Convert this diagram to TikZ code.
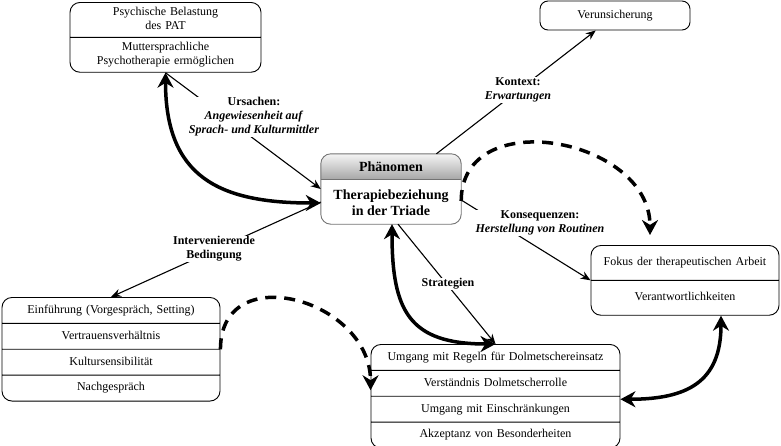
\documentclass[tikz,border=0pt]{standalone}
\usepackage{fontspec}
\setmainfont{Liberation Serif}
\usetikzlibrary{shapes.multipart,arrows.meta}

\newcommand{\fs}{\fontsize{12}{14}\selectfont}
\newcommand{\fb}{\fontsize{14}{16}\selectfont\bfseries}

\tikzset{
  listbox/.style={rectangle split, rectangle split parts=#1, draw, line width=0.9pt,
    rounded corners=10pt, inner xsep=0pt, align=center, font=\fs, fill=white},
  onebox/.style={draw, line width=0.9pt, rounded corners=8pt, font=\fs,
    minimum width=150pt, minimum height=29pt},
  thinarrow/.style={line width=1.1pt, -{Stealth[length=10pt,width=8pt]}},
  dblarrow/.style={line width=3.5pt, looseness=1.3,
    {Stealth[length=15pt,width=16pt]}-{Stealth[length=15pt,width=16pt]}},
  dasharrow/.style={line width=3.5pt, dash pattern=on 11pt off 8pt,
    -{Stealth[length=15pt,width=16pt]}},
  lbl/.style={fill=white, inner sep=1pt, align=center, font=\fs\bfseries},
}

\begin{document}
\begin{tikzpicture}[x=1pt,y=1pt]
  \useasboundingbox (0,0) rectangle (781,-445);

  % boxes
  \node[listbox=2, text width=191pt, inner ysep=3pt, anchor=north] (pat) at (165.5,-2)
    {\strut Psychische Belastung\\\strut des PAT
     \nodepart{two}\strut Muttersprachliche\\\strut Psychotherapie ermöglichen};
  \node[onebox] (ver) at (615,-15.5) {Verunsicherung};
  \node[listbox=2, text width=188pt, inner ysep=10pt, anchor=north] (fokus) at (685,-245)
    {\strut Fokus der therapeutischen Arbeit
     \nodepart{two}\strut Verantwortlichkeiten};
  \node[listbox=4, text width=218pt, inner ysep=5.5pt, anchor=north] (einf) at (111,-297)
    {\strut Einführung (Vorgespräch, Setting)
     \nodepart{two}\strut Vertrauensverhältnis
     \nodepart{three}\strut Kultursensibilität
     \nodepart{four}\strut Nachgespräch};
  \node[listbox=4, text width=249pt, inner ysep=5.5pt, anchor=north] (umg) at (495.5,-344)
    {\strut Umgang mit Regeln für Dolmetschereinsatz
     \nodepart{two}\strut Verständnis Dolmetscherrolle
     \nodepart{three}\strut Umgang mit Einschränkungen
     \nodepart{four}\strut Akzeptanz von Besonderheiten};

  % phaenomen
  \node[minimum width=140pt, minimum height=70pt, inner sep=0pt] (ctr) at (391,-189) {};
  \begin{scope}
    \clip[rounded corners=10pt] (ctr.south west) rectangle (ctr.north east);
    \shade[top color=black!4, bottom color=black!35] (ctr.north west) rectangle ([yshift=-26pt]ctr.north east);
  \end{scope}
  \draw[black!55, line width=0.9pt, rounded corners=10pt] (ctr.south west) rectangle (ctr.north east);
  \draw[black!55, line width=0.9pt] ([yshift=-26pt]ctr.north west) -- ([yshift=-26pt]ctr.north east);
  \node[font=\fb] (phae) at ([yshift=-13pt]ctr.north) {Phänomen};
  \node[font=\fb, align=center] (tria) at ([yshift=-49pt]ctr.north) {Therapiebeziehung\\in der Triade};

  % thin connectors
  \draw[thinarrow] (pat.south) -- (ctr.west);
  \draw[thinarrow] (ctr) -- (ver);
  \draw[thinarrow] ([yshift=-11pt]ctr.east) -- (fokus.west);
  \draw[thinarrow] ([yshift=-13pt]ctr.west) -- (einf.north);
  \draw[thinarrow] ([xshift=7pt]ctr.south) -- (umg.north);

  \node[lbl] (urs) at (254,-117) {Ursachen:\\\textit{Angewiesenheit auf}\\\textit{Sprach- und Kulturmittler}};
  \node[lbl] (kon) at (518,-90) {Kontext:\\\textit{Erwartungen}};
  \node[lbl] (kons) at (540,-223) {Konsequenzen:\\\textit{Herstellung von Routinen}};
  \node[lbl] (intv) at (214,-249) {Intervenierende\\Bedingung};
  \node[lbl] (strat) at (448,-284) {Strategien};

  % thick curves
  \draw[dblarrow] (pat.south) to[out=-90,in=180] ([yshift=-14pt]ctr.west);
  \draw[dblarrow, looseness=1.4] ([xshift=1pt]ctr.south) to[out=-90,in=180] (umg.north);
  \draw[dblarrow] ([xshift=36pt]fokus.south) to[out=-90,in=0] ([yshift=-3pt]umg.east);

  \draw[dasharrow] ([yshift=-12pt]ctr.east) to[out=90,in=90,looseness=1.3] ([xshift=-35pt,yshift=10pt]fokus.north);
  \draw[dasharrow] (einf.east) to[out=90,in=90,looseness=1.5] ([yshift=6pt]umg.west);
\end{tikzpicture}
\end{document}
